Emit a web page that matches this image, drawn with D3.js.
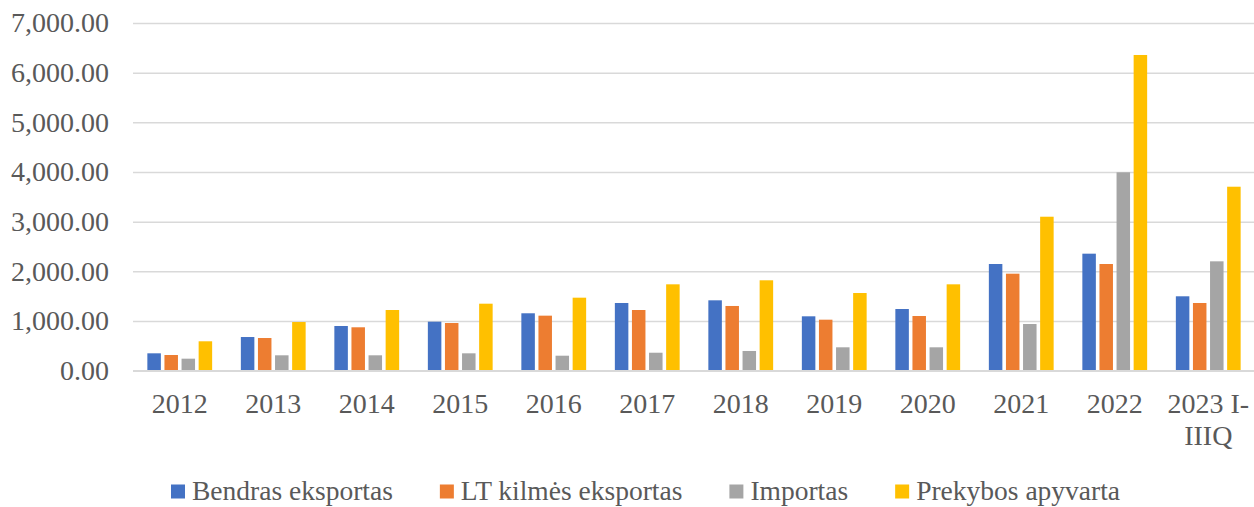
<!DOCTYPE html>
<html>
<head>
<meta charset="utf-8">
<script src="https://cdnjs.cloudflare.com/ajax/libs/d3/7.8.5/d3.min.js"></script>
<style>
  body { margin: 0; background: #fff; }
</style>
</head>
<body>
<div id="container"></div>
<script>
const width = 1254;
const height = 507;
const plotLeft = 133;
const plotRight = 1255;
const plotTop = 23;
const plotBottom = 370.7;
const serif = "'Liberation Serif', 'Times New Roman', serif";

// data
const categories = ["2012", "2013", "2014", "2015", "2016", "2017", "2018", "2019", "2020", "2021", "2022", "2023 I-IIIQ"];
const seriesNames = ["Bendras eksportas", "LT kilmės eksportas", "Importas", "Prekybos apyvarta"];
const bendrasEksportas = [350, 678, 900, 987, 1156, 1363, 1417, 1095, 1242, 2148, 2356, 1498];
const ltKilmesEksportas = [316, 658, 874, 960, 1108, 1222, 1303, 1027, 1101, 1953, 2148, 1363];
const importas = [242, 310, 310, 350, 302, 362, 397, 471, 471, 940, 3994, 2202];
const prekybosApyvarta = [592, 980, 1222, 1349, 1470, 1739, 1820, 1564, 1739, 3100, 6356, 3704];
const yTicks = [0, 1000, 2000, 3000, 4000, 5000, 6000, 7000];
const colors = ["#4472C4", "#ED7D31", "#A5A5A5", "#FFC000"];

const seriesValues = [bendrasEksportas, ltKilmesEksportas, importas, prekybosApyvarta];
const rows = categories.map((c, i) => ({
  category: c,
  values: seriesNames.map((s, j) => ({ series: s, value: seriesValues[j][i] }))
}));

const viz = d3.select("#container").append("svg").attr("width", width).attr("height", height);

let xScale = d3.scaleBand().domain(categories).range([plotLeft, plotRight]).paddingInner(0.307).paddingOuter(0.1535);
let subScale = d3.scaleBand().domain(seriesNames).range([0, xScale.bandwidth()]).paddingInner(0.21);
let yScale = d3.scaleLinear().domain([0, 7000]).range([plotBottom, plotTop]);
let colorMap = d3.scaleOrdinal().domain(seriesNames).range(colors);

// gridlines
let grid = viz.append("g").attr("transform", "translate(" + plotLeft + ",0)")
  .call(d3.axisLeft(yScale).tickValues(yTicks).tickSize(-(plotRight - plotLeft)).tickFormat(""));
grid.select(".domain").remove();
grid.selectAll("line").attr("stroke", "#d9d9d9").attr("stroke-width", 1.5);

// bars
let groups = viz.selectAll(".group").data(rows).enter().append("g").attr("class", "group")
  .attr("transform", d => "translate(" + xScale(d.category) + ",0)");
groups.selectAll("rect").data(d => d.values).enter().append("rect")
  .attr("x", d => subScale(d.series))
  .attr("width", subScale.bandwidth())
  .attr("y", d => yScale(d.value))
  .attr("height", d => plotBottom - yScale(d.value))
  .attr("fill", d => colorMap(d.series));

// y axis labels
let yAxisGroup = viz.append("g").attr("transform", "translate(" + plotLeft + ",0)")
  .call(d3.axisLeft(yScale).tickValues(yTicks).tickSize(0).tickPadding(24).tickFormat(d3.format(",.2f")));
yAxisGroup.select(".domain").remove();
yAxisGroup.attr("font-family", serif);
yAxisGroup.selectAll("text").style("font-family", serif).style("font-size", "28px").attr("fill", "#595959");

// x axis
let xAxisGroup = viz.append("g").attr("transform", "translate(0," + plotBottom + ")")
  .call(d3.axisBottom(xScale).tickSize(0).tickPadding(0));
xAxisGroup.attr("font-family", serif);
xAxisGroup.select(".domain").attr("stroke", "#d9d9d9").attr("stroke-width", 1.5)
  .attr("d", "M" + plotLeft + ",0H" + plotRight);
xAxisGroup.selectAll("text").style("font-family", serif).style("font-size", "28px").attr("fill", "#595959")
  .attr("dy", null).attr("y", 42.5)
  .each(function(d) {
    if (d.indexOf("I-") > -1) {
      let t = d3.select(this).text(null);
      t.append("tspan").attr("x", 0).attr("y", 42.5).text("2023 I-");
      t.append("tspan").attr("x", 0).attr("y", 74.5).text("IIIQ");
    }
  });

// legend
let legend = viz.append("g").attr("class", "legend");
let items = legend.selectAll(".item").data(seriesNames).enter().append("g").attr("class", "item");
items.append("rect").attr("y", 484.5).attr("width", 14).attr("height", 14).attr("fill", d => colorMap(d));
items.append("text").attr("x", 21).attr("y", 500)
  .style("font-family", serif).style("font-size", "27.5px").attr("fill", "#595959").text(d => d);
let xPos = 171;
items.each(function() {
  let g = d3.select(this);
  g.attr("transform", "translate(" + xPos + ",0)");
  xPos += 21 + g.select("text").node().getComputedTextLength() + 47;
});
</script>
</body>
</html>
